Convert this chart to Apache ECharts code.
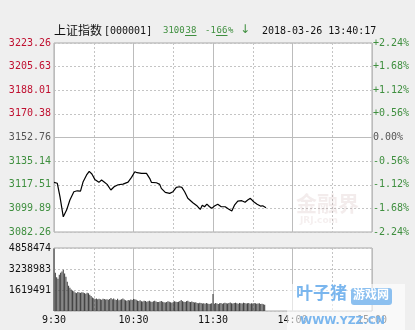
<!DOCTYPE html>
<html><head><meta charset="utf-8">
<script src="https://cdn.jsdelivr.net/npm/echarts@6/dist/echarts.min.js"></script>
<style>html,body{margin:0;padding:0;background:#efefef}#c{width:415px;height:330px}</style>
</head><body><div id="c"></div>
<script>
// ---- data ----
const priceMinutes = [0,2.5,4.5,7,9.5,12,15,17.5,20,22,24.6,26.6,28.6,30.8,33.9,35.9,37.6,40.1,42.9,45.4,48.4,52.1,55.9,58.5,61,62.7,66,69.8,72.2,73.5,77.3,79.8,81,84,87.3,89.8,92.3,94.8,96.5,98.6,101,104.8,108.1,110.4,111.9,113.6,115.4,117.4,119.1,121.1,123.6,126.2,129.2,131.7,134.2,136.2,138.7,141.7,144.2,146.2,148.2,150.7,153.3,155.8,157.5,160];
const priceValues = [3119.3,3118.6,3108.6,3093.6,3098.6,3106.1,3112.3,3113.0,3112.8,3119.8,3124.8,3127.5,3125.5,3121.5,3119.3,3121.0,3119.8,3117.8,3113.6,3116.0,3117.5,3118.0,3119.5,3123.0,3127.2,3126.5,3126.0,3126.0,3122.3,3119.3,3119.0,3117.8,3114.8,3111.8,3111.1,3112.3,3115.6,3116.0,3115.6,3112.3,3107.4,3104.1,3101.6,3099.1,3102.3,3101.1,3103.1,3101.1,3099.9,3101.6,3102.9,3101.1,3101.1,3099.4,3097.9,3102.3,3105.3,3105.6,3104.4,3106.1,3107.4,3104.8,3102.9,3101.6,3101.8,3100.4];
// volume per minute starting at 9:30 (index = trading minute)
const volumes = [4820000,2950000,2600000,2480000,2800000,2950000,3050000,3180000,2900000,2650000,
2250000,1950000,1800000,1660000,1580000,1520000,1420000,1380000,1470000,1420000,
1400000,1450000,1430000,1380000,1330000,1400000,1360000,1250000,1150000,1050000,
980000,920000,960000,900000,940000,910000,870000,950000,920000,880000,
900000,860000,930000,1000000,900000,960000,880000,850000,940000,820000,
870000,900000,960000,880000,830000,790000,850000,820000,880000,840000,
930000,900000,860000,800000,780000,820000,760000,740000,800000,770000,
720000,760000,800000,740000,700000,760000,790000,730000,700000,690000,
740000,780000,720000,680000,650000,700000,750000,720000,680000,640000,
700000,760000,720000,690000,720000,780000,850000,760000,720000,700000,
760000,800000,720000,690000,740000,700000,650000,680000,620000,600000,
640000,620000,580000,600000,560000,620000,580000,540000,560000,600000,
1320000,560000,620000,580000,540000,600000,620000,560000,600000,640000,
600000,580000,620000,660000,600000,580000,620000,640000,600000,560000,
620000,600000,580000,640000,620000,580000,600000,620000,560000,600000,
580000,620000,600000,560000,580000,600000,540000,560000,520000,480000];
const preClose = 3152.76;
const priceMin = 3082.26, priceMax = 3223.26, priceStep = 17.625;
const priceTickLabels = ['3082.26','3099.89','3117.51','3135.14','3152.76','3170.38','3188.01','3205.63','3223.26'];
const pctTickLabels = ['-2.24%','-1.68%','-1.12%','-0.56%','0.00%','+0.56%','+1.12%','+1.68%','+2.24%'];
const volMax = 4858474;
const volTickLabels = ['','1619491','3238983','4858474'];
const timeTickLabels = ['9:30','10:30','11:30','14:00','15:00'];

// ---- styles ----
const RED = '#c01030', GREEN = '#3f8f3f', GRAY = '#555555';
const MONO = '"DejaVu Sans Mono", monospace';
const dashLine = {lineStyle:{color:'#c4c4c4', type:[2,2], width:1}};
const solidLine = {lineStyle:{color:'#bcbcbc', type:'solid', width:1}};
const noAxis = {axisLine:{show:false}, axisTick:{show:false}};

function xAx(grid, interval, split, labels) {
  return Object.assign({gridIndex:grid, type:'value', min:0, max:240, interval:interval,
    splitLine:Object.assign({show:true}, split),
    axisLabel: labels ? {show:true, showMinLabel:true, showMaxLabel:true, color:'#111', fontFamily:MONO, fontSize:10, margin:4,
      formatter: v => (v % 60 === 0 ? timeTickLabels[v/60] : '')} : {show:false}
  }, noAxis);
}

const chart = echarts.init(document.getElementById('c'), null, {renderer:'canvas'});
chart.setOption({
  animation:false,
  backgroundColor:'#efefef',
  grid:[
    {left:54, top:43, width:318, height:189, show:true, backgroundColor:'#fff', borderColor:'#a8a8a8', borderWidth:1},
    {left:54, top:248, width:318, height:63, show:true, backgroundColor:'#fff', borderColor:'#a8a8a8', borderWidth:1}
  ],
  xAxis:[ xAx(0,30,dashLine,false), xAx(0,60,solidLine,false), xAx(1,30,dashLine,true), xAx(1,60,solidLine,false) ],
  yAxis:[
    Object.assign({gridIndex:0, type:'value', position:'left', min:priceMin, max:priceMax, interval:priceStep,
      splitLine:Object.assign({show:true}, dashLine),
      axisLabel:{fontFamily:MONO, fontSize:10, margin:3,
        formatter: v => priceTickLabels[Math.round((v - priceMin)/priceStep)],
        color: v => { const i = Math.round((v - priceMin)/priceStep); return i > 4 ? RED : (i === 4 ? GRAY : GREEN); }}
    }, noAxis),
    Object.assign({gridIndex:0, type:'value', position:'right', min:-2.24, max:2.24, interval:0.56,
      splitLine:{show:false},
      axisLabel:{fontFamily:MONO, fontSize:10, margin:1,
        formatter: v => pctTickLabels[Math.round((v + 2.24)/0.56)],
        color: v => { const i = Math.round((v + 2.24)/0.56); return i > 4 ? RED : (i === 4 ? GRAY : GREEN); }}
    }, noAxis),
    Object.assign({gridIndex:1, type:'value', position:'left', min:0, max:volMax, interval:volMax/3,
      splitLine:Object.assign({show:true}, dashLine),
      axisLabel:{fontFamily:MONO, fontSize:10, margin:3, color:'#111', showMaxLabel:true,
        formatter: v => volTickLabels[Math.round(v/(volMax/3))]}
    }, noAxis)
  ],
  series:[
    {type:'line', xAxisIndex:0, yAxisIndex:0, showSymbol:false, symbol:'none',
      data: priceMinutes.map((m,i)=>[m, priceValues[i]]),
      lineStyle:{color:'#000', width:1.2},
      markLine:{silent:true, symbol:'none', label:{show:false}, lineStyle:{color:'#bcbcbc', type:'solid', width:1},
        data:[{yAxis:preClose}]}
    },
    {type:'bar', xAxisIndex:2, yAxisIndex:2, barWidth:1.1,
      data: volumes.map((v,i)=>[i, v]),
      itemStyle:{color:'#444'}}
  ],
  graphic:[
    {type:'text', x:54, y:24, style:{text:'上证指数', fill:'#111', font:'12px "Noto Sans CJK SC"'}},
    {type:'text', x:104, y:26, style:{text:'[000001]', fill:'#111', font:'10px ' + MONO}},
    {type:'text', x:163, y:26, style:{text:'3100', fill:GREEN, font:'9px ' + MONO}},
    {type:'text', x:185.5, y:26, style:{text:'38', fill:GREEN, font:'9px ' + MONO}},
    {type:'line', shape:{x1:185, y1:35.5, x2:196.5, y2:35.5}, style:{stroke:GREEN, lineWidth:1}},
    {type:'text', x:205, y:26, style:{text:'-1', fill:GREEN, font:'9px ' + MONO}},
    {type:'text', x:216.5, y:26, style:{text:'66', fill:GREEN, font:'9px ' + MONO}},
    {type:'line', shape:{x1:216, y1:35.5, x2:227.5, y2:35.5}, style:{stroke:GREEN, lineWidth:1}},
    {type:'text', x:228, y:26, style:{text:'%', fill:GREEN, font:'9px ' + MONO}},
    {type:'text', x:240, y:24, style:{text:'↓', fill:GREEN, font:'12px "DejaVu Sans"'}},
    {type:'text', x:262, y:26, style:{text:'2018-03-26 13:40:17', fill:'#111', font:'10px ' + MONO}},
    // watermarks
    {type:'text', x:296, y:193, z:50, style:{text:'金融界', fill:'rgba(190,150,150,0.18)', font:'bold 21px "Noto Sans CJK SC"'}},
    {type:'text', x:300, y:216, z:50, style:{text:'JRJ.com', fill:'rgba(190,150,150,0.15)', font:'bold 9px "DejaVu Sans"'}},
    {type:'rect', shape:{x:287, y:284, width:118, height:46}, z:50, style:{fill:'rgba(255,255,255,0.6)'}},
    {type:'text', x:296, y:284, z:51, style:{text:'叶子猪', fill:'#7ab6ee', font:'bold 17px "Noto Sans CJK SC"'}},
    {type:'rect', shape:{x:351, y:288, width:41, height:17, r:3}, z:51, style:{fill:'#8cc0f0'}},
    {type:'text', x:353, y:288, z:52, style:{text:'游戏网', fill:'#fff', font:'bold 12px "Noto Sans CJK SC"'}},
    {type:'text', x:300, y:316, z:51, style:{text:'WWW.YZZ.CN', fill:'#7ab6ee', font:'bold 11px "DejaVu Sans"'}}
  ]
});
</script>
</body></html>
